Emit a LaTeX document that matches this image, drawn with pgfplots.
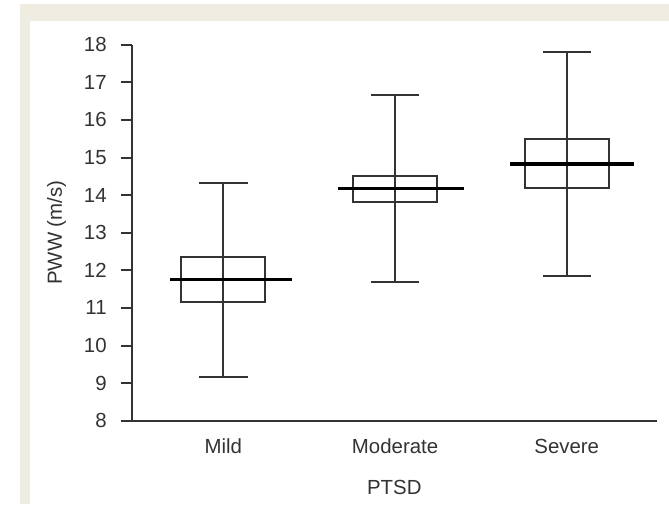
\documentclass[border=0pt]{standalone}
\usepackage{pgfplots}
\pgfplotsset{compat=1.18}
\usepackage{fontspec}
\setmainfont{Liberation Sans}
\definecolor{beige}{HTML}{EFECE2}
\definecolor{ink}{HTML}{333333}
\begin{document}
\begin{tikzpicture}
\fill[white] (-65.85pt,-41.65pt) rectangle (268.65pt,210.35pt);
\fill[beige] (-55.85pt,-41.65pt) rectangle (268.65pt,208.35pt);
\fill[white] (-50.85pt,-41.65pt) rectangle (268.65pt,199.85pt);
\begin{axis}[
  at={(0,0)}, anchor=south west,
  scale only axis, width=262.6pt, height=188pt,
  xmin=-0.534, xmax=2.525, ymin=8, ymax=18,
  axis x line=bottom, axis y line=left,
  axis line style={-, draw=ink, line width=1pt},
  xtick={0,1,2}, xticklabels={Mild,Moderate,Severe},
  ytick={8,9,...,18},
  tick align=outside,
  major tick length=5.5pt,
  every tick/.style={draw=ink, line width=1pt},
  x tick style={draw=none},
  /pgf/number format/assume math mode=true,
  tick label style={font=\fontsize{10.2}{12}\selectfont, text=ink},
  xticklabel style={text height=7.5pt, text depth=2pt},
  yticklabel style={xshift=-3.5pt},
  label style={font=\fontsize{10.2}{12}\selectfont, text=ink},
  xlabel={PTSD}, ylabel={PWW (m/s)},
  xlabel style={yshift=-4.5pt},
  ylabel style={yshift=2pt},
  clip=false,
  every axis plot/.append style={line cap=rect, line join=miter},
]
% boxes (lower quartile, upper quartile)
\addplot[draw=ink, line width=1pt] coordinates {(-0.245,11.15) (0.245,11.15) (0.245,12.35) (-0.245,12.35) (-0.245,11.15)};
\addplot[draw=ink, line width=1pt] coordinates {(0.755,13.82) (1.245,13.82) (1.245,14.52) (0.755,14.52) (0.755,13.82)};
\addplot[draw=ink, line width=1pt] coordinates {(1.755,14.20) (2.245,14.20) (2.245,15.49) (1.755,15.49) (1.755,14.20)};
% whiskers (lower whisker to upper whisker)
\addplot[draw=ink, line width=1pt] coordinates {(0,9.17) (0,14.31)};
\addplot[draw=ink, line width=1pt] coordinates {(1,11.70) (1,16.66)};
\addplot[draw=ink, line width=1pt] coordinates {(2,11.85) (2,17.80)};
% whisker caps
\addplot[draw=ink, line width=1pt] coordinates {(-0.135,9.17) (0.135,9.17)};
\addplot[draw=ink, line width=1pt] coordinates {(-0.135,14.31) (0.135,14.31)};
\addplot[draw=ink, line width=1pt] coordinates {(0.865,11.70) (1.135,11.70)};
\addplot[draw=ink, line width=1pt] coordinates {(0.865,16.66) (1.135,16.66)};
\addplot[draw=ink, line width=1pt] coordinates {(1.865,11.85) (2.135,11.85)};
\addplot[draw=ink, line width=1pt] coordinates {(1.865,17.80) (2.135,17.80)};
% medians
\addplot[black, line width=1.8pt, line cap=butt] coordinates {(-0.31,11.76) (0.40,11.76)};
\addplot[black, line width=1.8pt, line cap=butt] coordinates {(0.67,14.18) (1.40,14.18)};
\addplot[black, line width=1.8pt, line cap=butt] coordinates {(1.67,14.83) (2.39,14.83)};
\end{axis}
\pgfresetboundingbox
\path (-65.85pt,-41.65pt) rectangle (268.65pt,210.35pt);
\end{tikzpicture}
\end{document}
